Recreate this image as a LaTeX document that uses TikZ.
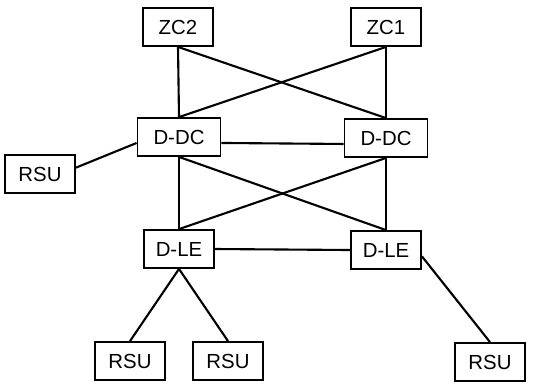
\documentclass[tikz,border=0pt]{standalone}
\usepackage{fontspec}
\setmainfont{Liberation Sans}
\usepackage{tikz}
\usetikzlibrary{calc,positioning}

\begin{document}
\begin{tikzpicture}[x=0.025cm,y=-0.025cm,
    unit/.style={draw,line width=1.3pt,minimum width=1.75cm,minimum height=0.95cm,inner sep=0pt,font=\fontsize{14.5}{16}\selectfont},
    wide/.style={unit,minimum width=2.075cm},
    link/.style={line width=1.5pt}]
      \useasboundingbox (0,0) rectangle (543,384);
      \begin{scope}
        \node[unit] (ZCb) at (178,27) {ZC2};
        \node[unit] (ZCa) at (386,27) {ZC1};
        \node[wide] (DCl) at (179,137) {D-DC};
        \node[wide] (DCr) at (386,138) {D-DC};
        \node[unit] (RSUl) at (40,174) {RSU};
        \node[unit] (LEl) at (179,249) {D-LE};
        \node[unit] (LEr) at (386,250) {D-LE};
        \node[unit] (RSUa) at (130,361) {RSU};
        \node[unit] (RSUb) at (228,361) {RSU};
        \node[unit] (RSUc) at (490,362) {RSU};
      \end{scope}
      \draw[link] (ZCb.south) -- (DCl.north);
      \draw[link] (ZCb.south) -- (DCr.north);
      \draw[link] (ZCa.south) -- (DCl.north);
      \draw[link] (ZCa.south) -- (DCr.north);
      \draw[link] (DCl.-8) -- (DCr.188);
      \draw[link] (RSUl.10) -- (DCl.188);
      \draw[link] (DCl.south) -- (LEl.north);
      \draw[link] (DCl.south) -- (LEr.north);
      \draw[link] (DCr.south) -- (LEl.north);
      \draw[link] (DCr.south) -- (LEr.north);
      \draw[link] (LEl.east) -- (LEr.west);
      \draw[link] (LEl.south) -- (RSUa.north);
      \draw[link] (LEl.south) -- (RSUb.north);
      \draw[link] (LEr.-10) -- (RSUc.north);
\end{tikzpicture}
\end{document}
